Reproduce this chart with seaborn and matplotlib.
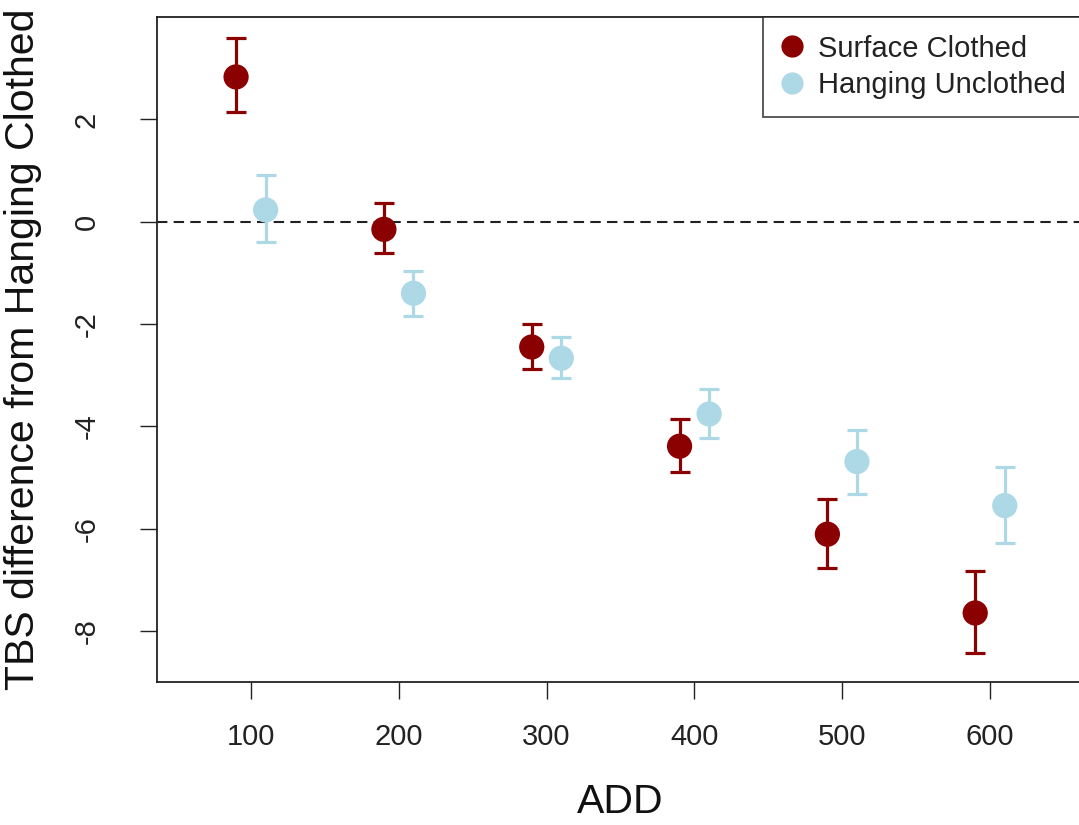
import seaborn as sns
import matplotlib.pyplot as plt
import matplotlib.lines as mlines
import numpy as np
import pandas as pd

# ---- data ----
add = [100, 200, 300, 400, 500, 600]
surface_mean = [2.83, -0.15, -2.45, -4.39, -6.11, -7.65]
surface_lo = [2.14, -0.62, -2.88, -4.90, -6.77, -8.44]
surface_hi = [3.59, 0.36, -2.00, -3.86, -5.42, -6.82]
hanging_mean = [0.23, -1.40, -2.67, -3.76, -4.69, -5.55]
hanging_lo = [-0.39, -1.84, -3.06, -4.23, -5.32, -6.28]
hanging_hi = [0.91, -0.96, -2.26, -3.27, -4.08, -4.80]

groups = ["Surface Clothed", "Hanging Unclothed"]
colors = {"Surface Clothed": "#8B0000", "Hanging Unclothed": "#ADD8E6"}
offsets = {"Surface Clothed": -10, "Hanging Unclothed": 10}

df = pd.concat([
    pd.DataFrame({"ADD": add, "mean": surface_mean, "lo": surface_lo,
                  "hi": surface_hi, "group": groups[0]}),
    pd.DataFrame({"ADD": add, "mean": hanging_mean, "lo": hanging_lo,
                  "hi": hanging_hi, "group": groups[1]}),
], ignore_index=True)
df["x"] = df["ADD"] + df["group"].map(offsets)

sns.set_style("ticks")
plt.rcParams["font.family"] = ["Liberation Sans", "DejaVu Sans"]
plt.rcParams["axes.unicode_minus"] = False

fig = plt.figure(figsize=(10.79, 8.25), dpi=100)
ax = fig.add_axes([0.1455, 0.1733, 0.859, 0.806])

# zero reference line
ax.axhline(0, color="#222222", lw=1.5, ls=(0, (5, 3)), zorder=1)

# error bars
for g in groups:
    d = df[df["group"] == g]
    ax.errorbar(d["x"], d["mean"],
                yerr=[d["mean"] - d["lo"], d["hi"] - d["mean"]],
                fmt="none", ecolor=colors[g], elinewidth=2.3,
                capsize=7.5, capthick=2.3, zorder=2)

# points
sns.scatterplot(data=df, x="x", y="mean", hue="group", palette=colors,
                hue_order=groups, s=330, edgecolor="none", linewidth=0,
                legend=False, ax=ax, zorder=3)

ax.set_xlim(36.5, 663.5)
ax.set_ylim(-9.0, 4.0)
ax.set_xticks(add)
ax.set_yticks([-8, -6, -4, -2, 0, 2])
ax.tick_params(axis="both", labelsize=21, length=12.5, width=1,
               color="#222222", labelcolor="#222222")
ax.tick_params(axis="x", pad=17)
ax.tick_params(axis="y", pad=28, labelrotation=90)
for lab in ax.get_yticklabels():
    lab.set_verticalalignment("center")

for s in ax.spines.values():
    s.set_linewidth(1.3)
    s.set_color("#222222")

ax.set_xlabel("ADD", fontsize=29.5, labelpad=23, color="#111111")
ax.set_ylabel("TBS difference from Hanging Clothed", fontsize=29.5,
              labelpad=22, color="#111111")

handles = [mlines.Line2D([], [], ls="none", marker="o", markersize=16,
                         markerfacecolor=colors[g], markeredgewidth=0,
                         label=g) for g in groups]
leg = ax.legend(handles=handles, loc="upper right", borderaxespad=0,
                fontsize=21, frameon=True, fancybox=False,
                handlelength=0.8, handletextpad=0.5, labelspacing=0.29,
                borderpad=0.6)
leg.get_frame().set_edgecolor("#222222")
leg.get_frame().set_linewidth(1.3)
for t in leg.get_texts():
    t.set_color("#222222")

fig.savefig("out.png", dpi=100)
